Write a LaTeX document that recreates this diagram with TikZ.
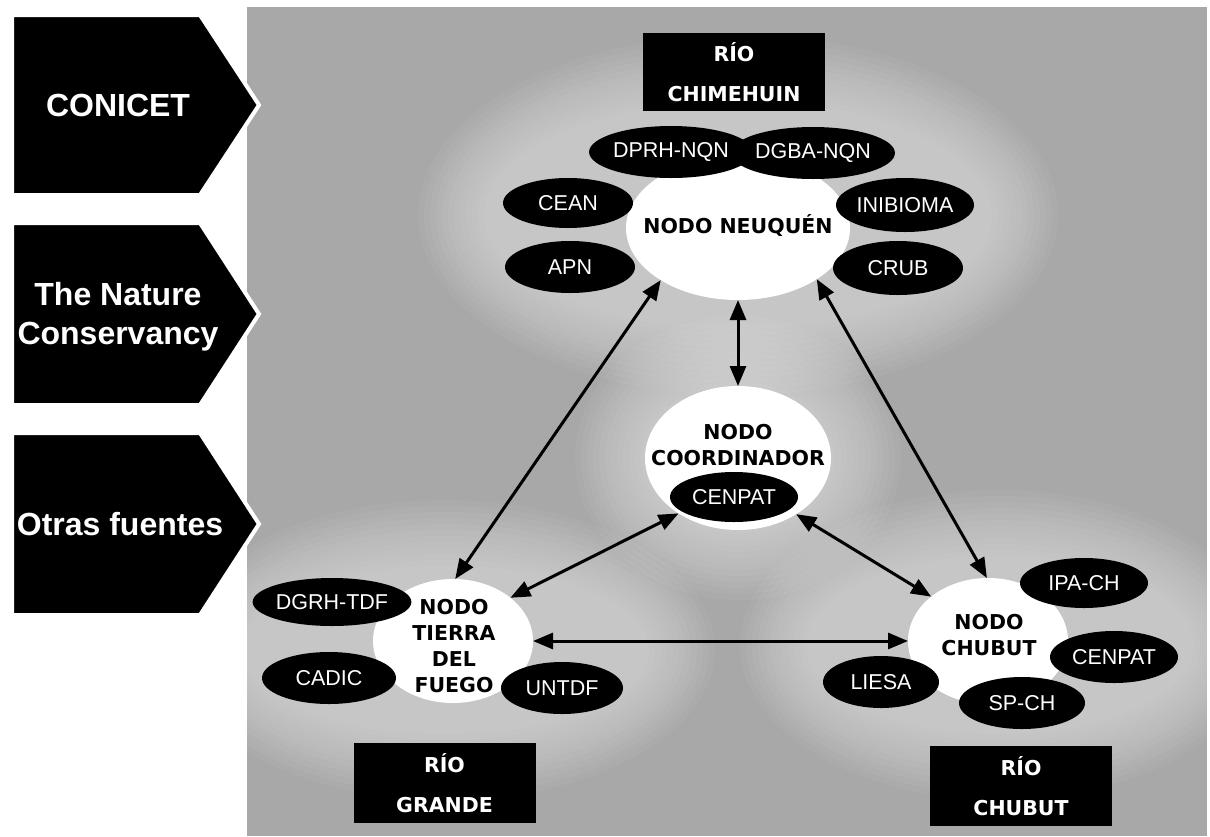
\documentclass[tikz,border=0pt]{standalone}
\usepackage{fontspec}
\setmainfont{Liberation Sans}
\newfontfamily\dejavu{DejaVu Sans}
\usetikzlibrary{shapes.geometric,arrows.meta}
\definecolor{bgc}{RGB}{168,168,168}
\begin{document}
\begin{tikzpicture}[x=1pt,y=-1pt,
  src/.style={fill=black,draw=white,line width=4pt,line join=miter},
  srctext/.style={text=white,align=center,inner sep=0pt,font=\bfseries\fontsize{32}{39}\selectfont},
  hub/.style={ellipse,fill=white,inner sep=0pt,outer sep=0pt},
  hubtext/.style={text=black,align=center,inner sep=0pt,font=\dejavu\bfseries\fontsize{20.5}{25.5}\selectfont},
  sat/.style={ellipse,fill=black,text=white,inner sep=0pt,outer sep=0pt,font=\fontsize{21.5}{24}\selectfont},
  rio/.style={rectangle,fill=black,text=white,align=center,inner sep=0pt,outer sep=0pt,minimum width=182pt,minimum height=80pt,font=\dejavu\bfseries\fontsize{20.5}{39.5}\selectfont},
  glow/.style={fill=white,opacity=0.045},
  link/.style={{Triangle[length=20pt,width=16pt]}-{Triangle[length=20pt,width=16pt]},line width=3pt}]
\useasboundingbox (0,0) rectangle (1210,836);
% textured background panel with soft light glows round the node groups
\fill[bgc] (247,7) rectangle (1207,836);
\begin{scope}
\clip (247,7) rectangle (1207,836);
\foreach \d in {4,10,...,70} {
  \fill[glow] (738,215) ellipse [x radius=250+\d, y radius=110+\d];
  \fill[glow] (738,458) ellipse [x radius=93+\d, y radius=72+\d];
  \fill[glow] (445,650) ellipse [x radius=200+\d, y radius=80+\d];
  \fill[glow] (1000,645) ellipse [x radius=190+\d, y radius=85+\d];
}
\end{scope}

% source arrows on the left
\filldraw[src] (12,15) -- (200,15) -- (259,105) -- (200,195) -- (12,195) -- cycle;
\filldraw[src] (12,223) -- (200,223) -- (259,314) -- (200,405) -- (12,405) -- cycle;
\filldraw[src] (12,433) -- (200,433) -- (259,524) -- (200,615) -- (12,615) -- cycle;
\node[srctext] (conicet) at (118,105) {CONICET};
\node[srctext] (tnc) at (118,317) {The Nature\\Conservancy};
\node[srctext] (otras) at (120,524) {Otras fuentes};

% Neuquen
\node[hub,minimum width=224pt,minimum height=144pt] (nq) at (738,228) {};
\node[hubtext] (nqt) at (738,225) {NODO NEUQUÉN};
\node[sat,minimum width=128pt,minimum height=52pt] (dprh) at (671,152) {DPRH-NQN};
\node[sat,minimum width=128pt,minimum height=52pt] (dgba) at (813,153) {DGBA-NQN};
\node[sat,minimum width=130pt,minimum height=50pt] (cean) at (568,203) {CEAN};
\node[sat,minimum width=138pt,minimum height=54pt] (inib) at (905,205) {INIBIOMA};
\node[sat,minimum width=130pt,minimum height=52pt] (apn) at (570,267) {APN};
\node[sat,minimum width=130pt,minimum height=54pt] (crub) at (898,268) {CRUB};
\node[rio,minimum height=78pt] (rchim) at (734,72) {RÍO\\CHIMEHUIN};

% Coordinador
\node[hub,minimum width=186pt,minimum height=144pt] (co) at (738,458) {};
\node[hubtext] (cot) at (738,445) {NODO\\COORDINADOR};
\node[sat,minimum width=128pt,minimum height=50pt] (cenco) at (734,497) {CENPAT};

% Tierra del Fuego
\node[hub,minimum width=160pt,minimum height=124pt] (tdf) at (453,641) {};
\node[hubtext,font=\dejavu\bfseries\fontsize{20.5}{26}\selectfont] (tdft) at (454,646) {NODO\\TIERRA\\DEL\\FUEGO};
\node[sat,minimum width=130pt,minimum height=48pt] (dgrh) at (332,602) {DGRH-TDF};
\node[sat,minimum width=134pt,minimum height=52pt] (cadic) at (329,678) {CADIC};
\node[sat,minimum width=122pt,minimum height=52pt] (untdf) at (562,688) {UNTDF};
\node[rio] (rgra) at (444.5,783) {RÍO\\GRANDE};

% Chubut
\node[hub,minimum width=160pt,minimum height=126pt] (ch) at (988,641) {};
\node[hubtext,font=\dejavu\bfseries\fontsize{20.5}{26}\selectfont] (cht) at (989,635) {NODO\\CHUBUT};
\node[sat,minimum width=128pt,minimum height=50pt] (ipa) at (1084,583) {IPA-CH};
\node[sat,minimum width=128pt,minimum height=52pt] (cench) at (1114,657) {CENPAT};
\node[sat,minimum width=116pt,minimum height=52pt] (liesa) at (881,682) {LIESA};
\node[sat,minimum width=126pt,minimum height=52pt] (spch) at (1022,703) {SP-CH};
\node[rio] (rchu) at (1021,786) {RÍO\\CHUBUT};

% links
\draw[link] (nq.214) -- (tdf.88);
\draw[link] (nq.-33) -- (ch.91);
\draw[link] (nq.270) -- (co.90);
\draw[link] (co.223) -- (tdf.37);
\draw[link] (co.-44) -- (ch.142);
\draw[link] (tdf.east) -- (ch.west);
\end{tikzpicture}
\end{document}
